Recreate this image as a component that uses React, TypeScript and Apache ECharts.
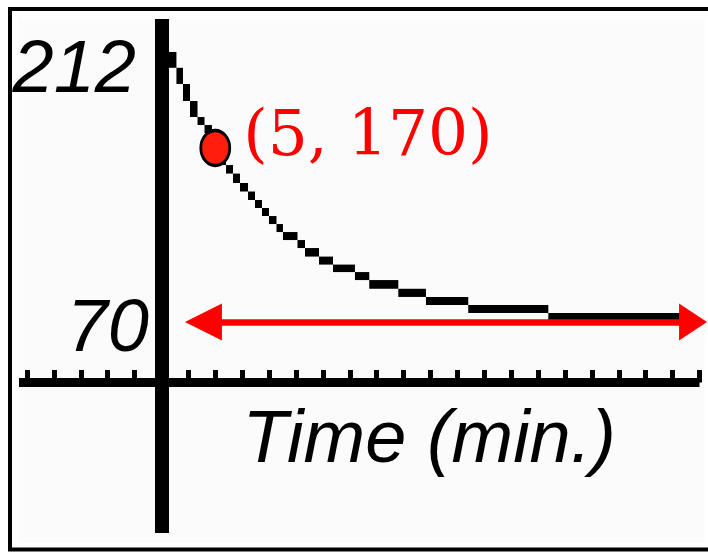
import React, { useEffect, useRef } from "react";
import * as echarts from "echarts";

// Cooling curve sampled as calculator "pixel" corners: each block spans
// from one sample to the next.
const curveMinutes = [
  0.65, 1.39, 2.0, 2.65, 3.35, 4.0, 4.69, 5.34, 6.0, 6.65, 7.3, 8.04, 8.69, 9.34,
  9.99, 10.69, 11.29, 12.64, 13.34, 14.64, 15.94, 17.98, 19.31, 22.01, 24.58,
  28.51, 35.95, 49.12,
];
const curveTemps = [
  225.2, 216.1, 206.8, 197.0, 187.8, 183.2, 178.6, 169.4, 160.2, 155.3, 149.9,
  145.0, 140.1, 135.5, 130.9, 126.3, 121.7, 117.1, 112.5, 107.6, 103.0, 98.7,
  94.1, 89.1, 84.4, 79.8, 75.2, 70.9,
];

// Highlighted reading
const markedPoint: [number, number] = [5, 170];

// Room temperature asymptote and the span of its double arrow (minutes)
const roomTemp = 70;
const arrowStart = 3.9;
const arrowEnd = 49.4;

// Temperature tick labels on the vertical axis
const tempLabels = [212, 70];

// Minor ticks along the time axis
const timeTicks = Array.from({ length: 26 }, (_, i) => -12.5 + 2.5 * i);

// Plot area ranges
const xMin = -13.24;
const xMax = 50;
const yMin = 35.23;
const yMax = 244.14;
// The vertical axis runs on below the time axis
const yAxisBarMin = -51.26;

const sansItalic = {
  fontFamily: "'Liberation Sans', Arial, sans-serif",
  fontStyle: "italic" as const,
  color: "#000",
};

export default function App() {
  const ref = useRef<HTMLDivElement>(null);

  useEffect(() => {
    if (!ref.current) return;
    const chart = echarts.init(ref.current, null, { renderer: "svg" });

    const blocks = curveMinutes.slice(0, -1).map((t, i) => [
      t,
      curveTemps[i],
      curveMinutes[i + 1],
      curveTemps[i + 1],
    ]);

    chart.setOption({
      animation: false,
      backgroundColor: "#fff",
      graphic: [
        {
          type: "rect",
          z: -20,
          shape: { x: 10, y: 9, width: 720, height: 540.5 },
          style: { fill: "#fff", stroke: "#000", lineWidth: 4 },
        },
        {
          type: "rect",
          z: -19,
          shape: { x: 19, y: 19, width: 686, height: 524 },
          style: { fill: "#fbfbfb" },
        },
      ],
      grid: [
        {
          left: 19,
          right: 8.5,
          top: 19,
          bottom: 169.5,
          outerBoundsMode: "none",
        },
        {
          left: 162,
          width: 2,
          top: 19,
          bottom: 19,
          outerBoundsMode: "none",
        },
      ],
      xAxis: [
        {
          type: "value",
          gridIndex: 0,
          min: xMin,
          max: xMax,
          position: "bottom",
          axisLine: {
            show: true,
            onZero: false,
            lineStyle: { color: "#000", width: 9, cap: "butt" },
          },
          axisTick: {
            show: true,
            inside: true,
            length: 12.5,
            customValues: timeTicks,
            lineStyle: { color: "#000", width: 5, cap: "butt" },
          },
          axisLabel: { show: false },
          splitLine: { show: false },
          name: "Time (min.)",
          nameLocation: "middle",
          nameGap: 17,
          nameTextStyle: {
            ...sansItalic,
            fontSize: 74,
            padding: [0, 0, 0, 140],
          },
        },
        {
          type: "value",
          gridIndex: 1,
          min: 0,
          max: 1,
          show: false,
        },
      ],
      yAxis: [
        {
          type: "value",
          gridIndex: 0,
          min: yMin,
          max: yMax,
          show: false,
        },
        {
          type: "value",
          gridIndex: 1,
          min: yAxisBarMin,
          max: yMax,
          axisLine: {
            show: true,
            onZero: false,
            lineStyle: { color: "#000", width: 14, cap: "butt" },
          },
          axisTick: { show: false },
          splitLine: { show: false },
          axisLabel: {
            show: true,
            customValues: tempLabels,
            margin: 13,
            formatter: (v: number) =>
              v === tempLabels[0] ? `{hi|${v}}` : `{lo|${v}}`,
            rich: {
              hi: { ...sansItalic, fontSize: 74, padding: [0, 13, 16, 0] },
              lo: { ...sansItalic, fontSize: 74, padding: [6, 0, 0, 0] },
            },
          },
        },
      ],
      series: [
        {
          type: "custom",
          xAxisIndex: 0,
          yAxisIndex: 0,
          data: blocks,
          encode: { x: [0, 2], y: [1, 3] },
          renderItem: (_params: any, api: any) => {
            const a = api.coord([api.value(0), api.value(1)]);
            const b = api.coord([api.value(2), api.value(3)]);
            return {
              type: "rect",
              shape: {
                x: Math.min(a[0], b[0]),
                y: Math.min(a[1], b[1]),
                width: Math.abs(b[0] - a[0]),
                height: Math.abs(b[1] - a[1]),
              },
              style: { fill: "#000" },
            };
          },
        },
        {
          type: "scatter",
          xAxisIndex: 0,
          yAxisIndex: 0,
          data: [markedPoint],
          symbol: "path://M0,10 A10,10 0 1,1 20,10 A10,10 0 1,1 0,10 Z",
          symbolSize: [29, 35],
          itemStyle: {
            color: "#ff1e0e",
            borderColor: "#000",
            borderWidth: 3,
            opacity: 1,
          },
          label: {
            show: true,
            position: "right",
            distance: 12,
            offset: [0, -15],
            formatter: (p: any) => `(${p.value[0]}, ${p.value[1]})`,
            fontFamily: "'DejaVu Serif', serif",
            fontSize: 63,
            color: "#ff0000",
          },
          markLine: {
            silent: true,
            animation: false,
            label: { show: false },
            lineStyle: { color: "#ff0000", width: 6.7, type: "solid" },
            emphasis: { disabled: true },
            data: [
              [
                {
                  coord: [arrowStart, roomTemp],
                  symbol: "triangle",
                  symbolSize: [37, 37],
                },
                {
                  coord: [arrowEnd, roomTemp],
                  symbol: "triangle",
                  symbolSize: [37, 28],
                },
              ],
            ],
          },
        },
      ],
    });

    return () => chart.dispose();
  }, []);

  return (
    <div
      ref={ref}
      style={{ position: "absolute", left: 0, top: 0, width: 708, height: 552 }}
    />
  );
}
